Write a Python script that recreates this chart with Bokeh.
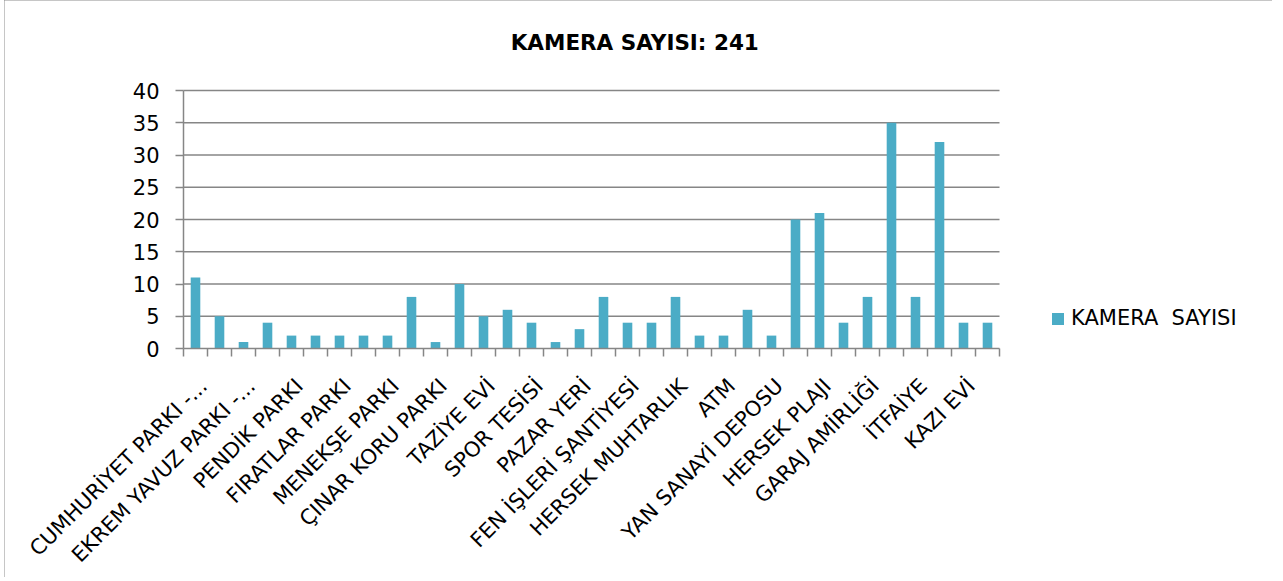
from bokeh.plotting import figure
from bokeh.models import (FixedTicker, Range1d, Label, Legend, LegendItem, LinearAxis)
from bokeh.core.properties import value
from bokeh.embed import file_html
from bokeh.resources import INLINE
import math

title_text = "KAMERA  SAYISI: 241"
series_name = "KAMERA  SAYISI"

# 34 locations; only every other one is labelled on the axis
values = [11, 5, 1, 4, 2, 2, 2, 2, 2, 8, 1, 10, 5, 6, 4, 1, 3,
          8, 4, 4, 8, 2, 2, 6, 2, 20, 21, 4, 8, 35, 8, 32, 4, 4]
tick_labels = ["CUMHURİYET PARKI -...", "EKREM YAVUZ PARKI -...", "PENDİK PARKI",
               "FIRATLAR PARKI", "MENEKŞE PARKI", "ÇINAR KORU PARKI", "TAZİYE EVİ",
               "SPOR TESİSİ", "PAZAR YERİ", "FEN İŞLERİ ŞANTİYESİ", "HERSEK MUHTARLIK",
               "ATM", "YAN SANAYİ DEPOSU", "HERSEK PLAJI", "GARAJ AMİRLİĞİ",
               "İTFAİYE", "KAZI EVİ"]
y_ticks = [0, 5, 10, 15, 20, 25, 30, 35, 40]
y_max = 40

n = len(values)
idx = list(range(n))
label_pos = idx[::2]

FONT = "DejaVu Sans"
GRAY = "#868686"
BAR = "#4BACC6"

# canvas geometry (pixels)
W, H = 1268, 577
PLOT_LEFT = 179          # pixel of the left edge of the category axis
CAT_PX = 24              # pixels per category
PLOT_TOP, PLOT_BOTTOM = 90, 348
ppy = (PLOT_BOTTOM - PLOT_TOP) / y_max

x_start = -0.5 - PLOT_LEFT / CAT_PX
x_end = -0.5 + (W - PLOT_LEFT) / CAT_PX
y_start = -(H - PLOT_BOTTOM) / ppy
y_end = y_max + PLOT_TOP / ppy

def X(px):
    return x_start + px / CAT_PX
def Y(py):
    return y_end - py / ppy

p = figure(width=W, height=H, output_backend="svg", toolbar_location=None,
           x_range=Range1d(x_start, x_end), y_range=Range1d(y_start, y_end),
           x_axis_type=None, y_axis_type=None, min_border=0)
p.outline_line_color = None
p.background_fill_color = "white"
p.border_fill_color = "white"
p.styles = {"margin-left": "4px", "outline": "2px solid #8c8c8c", "outline-offset": "-2px"}

# horizontal grid lines
grid_y = [t for t in y_ticks if t != 0]
p.segment(x0=[-0.5] * len(grid_y), x1=[n - 0.5] * len(grid_y), y0=grid_y, y1=grid_y,
          line_color=GRAY, line_width=1.5)

r = p.vbar(x=idx, top=values, width=0.4, fill_color=BAR, line_color=None)

# y axis
ya = LinearAxis(fixed_location=-0.5, bounds=(0, y_max),
                ticker=FixedTicker(ticks=y_ticks, minor_ticks=[]))
ya.major_label_text_font = FONT
ya.major_label_text_font_size = "21px"
ya.major_label_text_color = "black"
ya.major_label_standoff = 16
ya.major_tick_out = 8
ya.major_tick_in = 0
ya.major_tick_line_color = GRAY
ya.major_tick_line_width = 1.5
ya.axis_line_color = GRAY
ya.axis_line_width = 1.5
p.add_layout(ya, "left")

# x axis: tick marks on category boundaries
xa = LinearAxis(fixed_location=0, bounds=(-0.5, n - 0.5),
                ticker=FixedTicker(ticks=[], minor_ticks=[i - 0.5 for i in range(n + 1)]))
xa.major_tick_out = 0
xa.major_tick_in = 0
xa.minor_tick_out = 8
xa.minor_tick_in = 0
xa.minor_tick_line_color = GRAY
xa.minor_tick_line_width = 1.5
xa.axis_line_color = GRAY
xa.axis_line_width = 1.5
xa.major_label_text_font_size = "0px"
p.add_layout(xa, "below")

# category labels, rotated, ending just under their category
p.text(x=label_pos, y=[0] * len(label_pos), text=tick_labels,
       angle=math.radians(45), text_align="right", text_baseline="middle",
       x_offset=8, y_offset=34, text_font=value(FONT), text_font_size="21px",
       text_color="black")

p.add_layout(Label(x=X(W / 2), y=Y(42), text=title_text, text_align="center",
                   text_baseline="alphabetic", text_font=FONT,
                   text_font_size="21.5px", text_font_style="bold", text_color="black"))

legend = Legend(items=[LegendItem(label=series_name, renderers=[r])],
                location=(1046, 247), orientation="vertical")
legend.glyph_width = 15
legend.glyph_height = 15
legend.label_standoff = 6
legend.padding = 0
legend.margin = 0
legend.border_line_color = None
legend.background_fill_alpha = 0
legend.label_text_font = FONT
legend.label_text_font_size = "21px"
legend.label_text_color = "black"
p.add_layout(legend)

open("out.html", "w").write(file_html(p, INLINE))
